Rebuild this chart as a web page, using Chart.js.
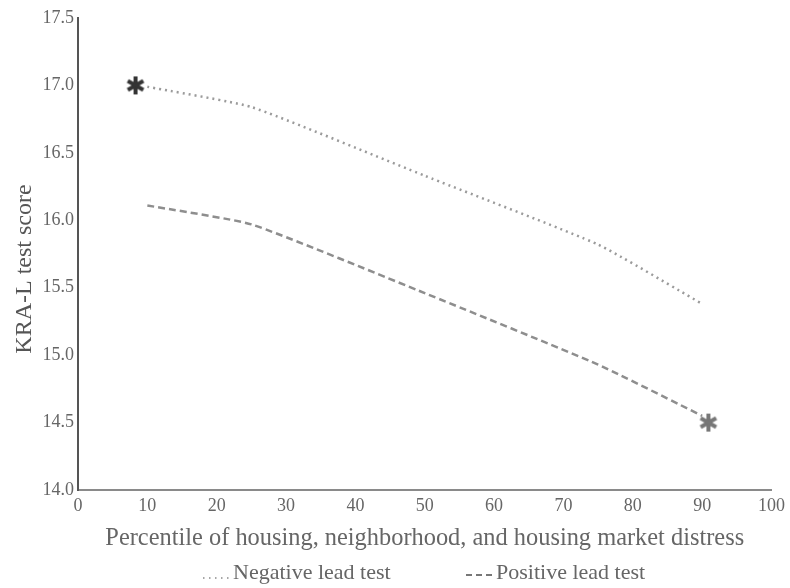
<!DOCTYPE html>
<html>
<head>
<meta charset="utf-8">
<script src="https://cdn.jsdelivr.net/npm/chart.js@4"></script>
<style>
  html, body { margin: 0; padding: 0; background: #fff; }
  #wrap { width: 790px; height: 588px; }
</style>
</head>
<body>
<div id="wrap"><canvas id="chart" width="790" height="588"></canvas></div>
<script>
// data
const percentiles = [10, 25, 50, 75, 90];
const negativeLead = [16.99, 16.84, 16.33, 15.82, 15.38];
const positiveLead = [16.11, 15.97, 15.46, 14.93, 14.55];
// asterisks marking the extremes
const starNegative = { x: 8.3, y: 17.0 };
const starPositive = { x: 90.9, y: 14.5 };
const xTicks = [0, 10, 20, 30, 40, 50, 60, 70, 80, 90, 100];
const yTicks = [14.0, 14.5, 15.0, 15.5, 16.0, 16.5, 17.0, 17.5];

const serif = '"Liberation Serif", "Times New Roman", serif';

// 6-armed asterisk drawn on a small canvas, used as point style
function asterisk(color) {
    const c = document.createElement('canvas');
    c.width = 22; c.height = 22;
    const g = c.getContext('2d');
    g.strokeStyle = color;
    g.lineWidth = 4;
    for (let i = 0; i < 3; i++) {
        const a = Math.PI / 2 + i * Math.PI / 3;
        g.beginPath();
        g.moveTo(11 - Math.cos(a) * 9, 11 - Math.sin(a) * 9);
        g.lineTo(11 + Math.cos(a) * 9, 11 + Math.sin(a) * 9);
        g.stroke();
    }
    return c;
}

// legend drawn by hand: sample line + text, spaced like the original
const legendItems = [
    { ds: 0, x: 203, dash: [1.5, 4.5], w: 1.5, color: '#8a8a8a', dy: 5 },
    { ds: 1, x: 466, dash: [6, 4], w: 1.8, color: '#777', dy: 2 }
];
const legendPlugin = {
    id: 'bottomLegend',
    afterDraw(chart) {
        const ctx = chart.ctx;
        const y = 573;
        ctx.save();
        ctx.font = '22px ' + serif;
        ctx.fillStyle = '#666';
        ctx.textBaseline = 'middle';
        legendItems.forEach(it => {
            ctx.strokeStyle = it.color;
            ctx.lineWidth = it.w;
            ctx.setLineDash(it.dash);
            ctx.beginPath();
            ctx.moveTo(it.x, y + it.dy);
            ctx.lineTo(it.x + 28, y + it.dy);
            ctx.stroke();
            ctx.fillText(chart.data.datasets[it.ds].label, it.x + 30, y);
        });
        ctx.restore();
    }
};

const toPoints = (xs, ys) => xs.map((x, i) => ({ x: x, y: ys[i] }));

new Chart(document.getElementById('chart'), {
    type: 'line',
    data: {
        datasets: [
            {
                label: 'Negative lead test',
                data: toPoints(percentiles, negativeLead),
                borderColor: '#9b9b9b',
                borderWidth: 2.5,
                borderDash: [2, 4],
                pointRadius: 0,
                tension: 0.15
            },
            {
                label: 'Positive lead test',
                data: toPoints(percentiles, positiveLead),
                borderColor: '#8e8e8e',
                borderWidth: 2.5,
                borderDash: [7, 4],
                pointRadius: 0,
                tension: 0.15
            },
            {
                label: 'star-neg',
                data: [starNegative],
                showLine: false,
                pointStyle: asterisk('#333'),
                pointRadius: 10
            },
            {
                label: 'star-pos',
                data: [starPositive],
                showLine: false,
                pointStyle: asterisk('#777'),
                pointRadius: 10
            }
        ]
    },
    options: {
        responsive: false,
        animation: false,
        layout: { padding: { top: 18, right: 18, left: 0, bottom: 35 } },
        scales: {
            x: {
                type: 'linear',
                min: 0,
                max: 100,
                afterBuildTicks: (s) => { s.ticks = xTicks.map(v => ({ value: v })); },
                afterFit: (s) => { s.height = 63; },
                grid: { display: false, drawTicks: false },
                border: { display: true, color: '#8a8a8a', width: 2 },
                ticks: { color: '#666', font: { family: serif, size: 18 }, padding: 5, maxRotation: 0 },
                title: {
                    display: true,
                    text: 'Percentile of housing, neighborhood, and housing market distress',
                    color: '#666',
                    font: { family: serif, size: 24.4 },
                    padding: { top: 0, bottom: 0 }
                }
            },
            y: {
                type: 'linear',
                min: 14,
                max: 17.5,
                afterBuildTicks: (s) => { s.ticks = yTicks.map(v => ({ value: v })); },
                afterFit: (s) => { s.width = 78; },
                grid: { display: false, drawTicks: false },
                border: { display: true, color: '#555', width: 2 },
                ticks: {
                    color: '#666',
                    font: { family: serif, size: 18 },
                    padding: 4,
                    callback: (v) => Number(v).toFixed(1)
                },
                title: {
                    display: true,
                    // trailing spaces nudge the label down, as in the original
                    text: 'KRA-L test score\u00a0\u00a0\u00a0\u00a0\u00a0',
                    color: '#555',
                    font: { family: serif, size: 24 },
                    padding: { top: 10, bottom: 0 }
                }
            }
        },
        plugins: {
            legend: { display: false },
            tooltip: { enabled: false }
        }
    },
    plugins: [legendPlugin]
});
</script>
</body>
</html>
